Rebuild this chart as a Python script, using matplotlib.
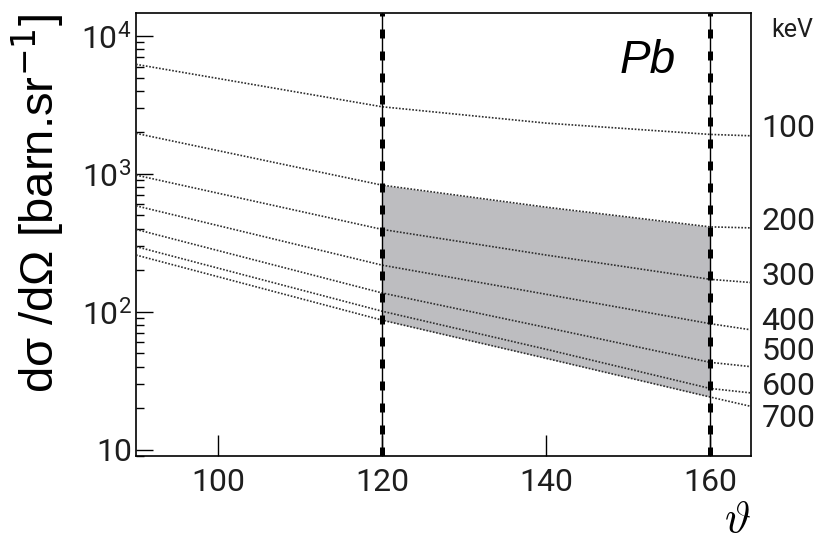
import matplotlib
matplotlib.use("Agg")
import matplotlib.pyplot as plt
import matplotlib.ticker as mticker
from matplotlib.transforms import blended_transform_factory

# ---- data ----
theta = [90, 120, 140, 160, 165]
energies = ["100", "200", "300", "400", "500", "600", "700"]
xs_100 = [6233, 3069, 2336, 1934, 1890]
xs_200 = [1968, 829, 574, 413, 406]
xs_300 = [980, 396, 258, 172, 163]
xs_400 = [587, 218, 134, 82, 74]
xs_500 = [396, 137, 77, 43, 40]
xs_600 = [297, 101, 53.5, 27.8, 25.8]
xs_700 = [258, 87, 46, 24.1, 20.6]
label_y = [2150, 449, 179, 84.5, 51.2, 28.5, 16.8]   # y positions of energy labels
band_lo, band_hi = 120, 160
x_ticks = [100, 120, 140, 160]
y_ticks = [10, 100, 1000, 10000]
y_ticklabels = ["10", "10$^{2}$", "10$^{3}$", "10$^{4}$"]

series = [xs_100, xs_200, xs_300, xs_400, xs_500, xs_600, xs_700]

NUMFONT = ['Roboto', 'DejaVu Sans']
plt.rcParams['font.family'] = NUMFONT
plt.rcParams['mathtext.fontset'] = 'custom'
plt.rcParams['mathtext.rm'] = 'Roboto'
plt.rcParams['mathtext.it'] = 'Roboto:italic'

TXT = '#1e1e1e'

fig = plt.figure(figsize=(8.18, 5.44), dpi=100)
ax = fig.add_axes([0.1663, 0.1618, 0.7518, 0.8149])

# band
xb = [t for t in theta if band_lo <= t <= band_hi]
top = [v for t, v in zip(theta, xs_200) if band_lo <= t <= band_hi]
bot = [v for t, v in zip(theta, xs_700) if band_lo <= t <= band_hi]
ax.fill_between(xb, bot, top, color='#bdbdc0', lw=0, zorder=1)

for s in series:
    ax.plot(theta, s, color='#2e2e2e', lw=1.2, ls=(0, (1, 1)), zorder=3)

for xv in (band_lo, band_hi):
    ax.axvline(xv, color='black', lw=1.0, zorder=4)
    ax.axvline(xv, color='black', lw=3.6, ls=(0, (1.8, 2.6)), zorder=4)

ax.set_yscale('log')
ax.set_xlim(90, 165)
ax.set_ylim(9, 14770)

ax.set_xticks(x_ticks)
ax.set_xticklabels([str(v) for v in x_ticks])
ax.xaxis.set_minor_locator(mticker.NullLocator())
ax.set_yticks(y_ticks)
ax.set_yticklabels(y_ticklabels)
ax.yaxis.set_minor_locator(mticker.LogLocator(base=10, subs=range(2, 10)))
ax.yaxis.set_minor_formatter(mticker.NullFormatter())

ax.tick_params(axis='x', which='major', direction='in', length=15, width=1.0,
               labelsize=23, pad=9, top=False, labelcolor=TXT)
ax.tick_params(axis='y', which='major', direction='in', length=12, width=1.0,
               labelsize=23, pad=3, right=False, labelcolor=TXT)
ax.tick_params(axis='y', which='minor', direction='in', length=6, width=1.0, right=False)
for sp in ax.spines.values():
    sp.set_linewidth(1.2)

# energy labels
trans = blended_transform_factory(fig.transFigure, ax.transData)
for lab, yv in zip(energies, label_y):
    ax.text(0.931, yv, lab, transform=trans, ha='left', va='center',
            fontsize=23, color=TXT, clip_on=False)

fig.text(0.968, 0.945, 'keV', ha='center', va='center', fontsize=18, color=TXT)
fig.text(0.758, 0.866, 'Pb', ha='left', va='baseline', fontsize=33,
         family=['Liberation Sans', 'DejaVu Sans'], style='italic')
fig.text(0.902, 0.044, r'$\vartheta$', ha='center', va='center', fontsize=32,
         math_fontfamily='cm')
fig.text(0.0465, 0.974, 'dσ /dΩ [barn.sr$^{-1}$]', rotation=90,
         ha='center', va='top', fontsize=34,
         family=['Liberation Sans', 'DejaVu Sans'],
         math_fontfamily='dejavusans')

fig.savefig('out.png', dpi=100)
